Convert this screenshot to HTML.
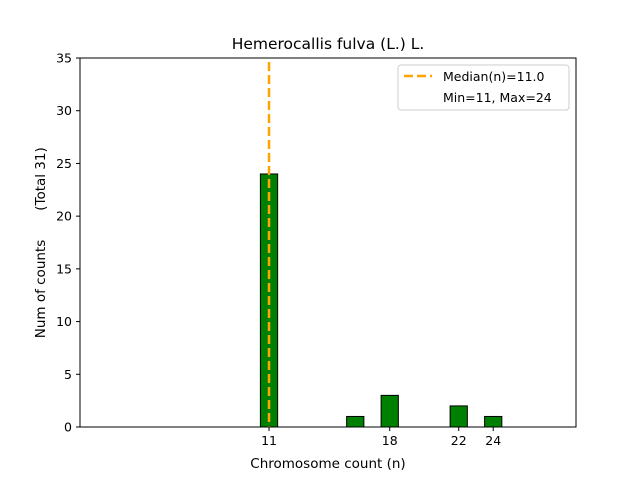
<!DOCTYPE html>
<html><head><meta charset="utf-8"><style>
body{margin:0;background:#fff;font-family:"Liberation Sans","DejaVu Sans",sans-serif;}
svg text{font-family:"DejaVu Sans","Liberation Sans",sans-serif;}
</style></head><body>
<svg width="640" height="480" xmlns="http://www.w3.org/2000/svg">
<rect width="640" height="480" fill="#fff"/>
<g id="plot"></g>
</svg>
<script>
const categories=[11,16,18,22,24];
const counts=[24,1,3,2,1];
const xTicks=[11,18,22,24];
const yTicks=[0,5,10,15,20,25,30,35];
const medianVal=11.0;
const L=80,R=576,T=58,B=427;
const xMin=0.04,xMax=28.8,yMax=35;
const xs=v=>L+(v-xMin)/(xMax-xMin)*(R-L);
const ys=v=>B-v/yMax*(B-T);
const g=document.getElementById('plot');
const NS='http://www.w3.org/2000/svg';
function mk(t,a,txt){const e=document.createElementNS(NS,t);for(const k in a)e.setAttribute(k,a[k]);if(txt!=null)e.textContent=txt;g.appendChild(e);return e;}
let e;
e=mk('line',{x1:80,x2:553,y1:B,y2:B,stroke:'#000','stroke-width':1});


categories.forEach((c,i)=>{
 const w=xs(c+0.5)-xs(c-0.5);
 const b=mk('rect',{x:xs(c)-w/2,y:ys(counts[i]),width:w,height:B-ys(counts[i]),fill:'#008000',stroke:'#000','stroke-width':1});
 
 
});
e=mk('line',{x1:xs(medianVal),x2:xs(medianVal),y1:T+4,y2:B,stroke:'#ffa500','stroke-width':2.5,'stroke-dasharray':'9,4'});


e=mk('rect',{x:L,y:T,width:R-L,height:B-T,fill:'none',stroke:'#000','stroke-width':1});


xTicks.forEach(t=>{
 const a=mk('line',{x1:xs(t),x2:xs(t),y1:B,y2:B+4,stroke:'#000'});
 
 
 const l=mk('text',{x:xs(t),y:B+18,'font-size':12.5,'text-anchor':'middle'},String(t));
 
 
});
yTicks.forEach(t=>{
 const a=mk('line',{x1:L-4,x2:L,y1:ys(t),y2:ys(t),stroke:'#000'});
 
 
 const l=mk('text',{x:L-8,y:ys(t)+4.5,'font-size':12.5,'text-anchor':'end'},String(t));
 
 
});
e=mk('text',{x:328,y:49,'font-size':15.5,'text-anchor':'middle'},'Hemerocallis fulva (L.) L.');


e=mk('text',{x:328,y:468,'font-size':13.5,'text-anchor':'middle'},'Chromosome count (n)');


e=mk('text',{x:45,y:289,'font-size':13.5,'text-anchor':'middle',transform:'rotate(-90 45 289)'},'Num of counts');


e=mk('text',{x:45,y:179,'font-size':13.5,'text-anchor':'middle',transform:'rotate(-90 45 179)'},'(Total 31)');


e=mk('rect',{x:398,y:65,width:171,height:45,rx:3,fill:'#fff',stroke:'#ccc','stroke-width':1,'fill-opacity':0.8});


e=mk('line',{x1:404,x2:432,y1:76,y2:76,stroke:'#ffa500','stroke-width':2.5,'stroke-dasharray':'9,4'});


e=mk('text',{x:443,y:81,'font-size':12.5},'Median(n)=11.0');


e=mk('text',{x:443,y:102,'font-size':12.5},'Min=11, Max=24');


</script>
</body></html>
